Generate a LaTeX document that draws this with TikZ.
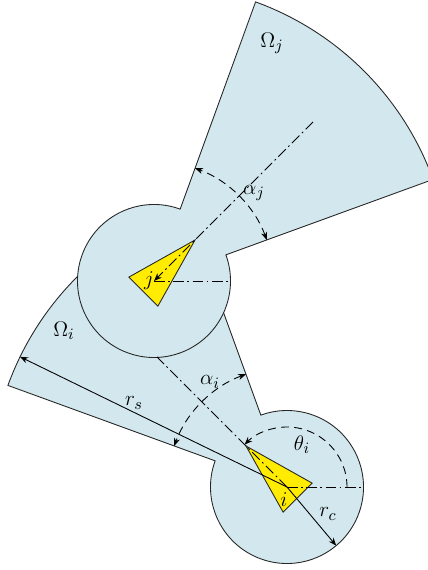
\documentclass[tikz,border=0pt]{standalone}
\usepackage{tikz}
\usetikzlibrary{arrows.meta,calc}
\definecolor{zoneblue}{RGB}{210,232,238}
\definecolor{robotyellow}{RGB}{255,236,0}
\tikzset{
  zone/.style={fill=zoneblue,draw=black!85,line width=0.5pt},
  robot/.style={fill=robotyellow,draw=black!85,line width=0.5pt},
  axisline/.style={line width=0.5pt,dash pattern=on 6pt off 2pt on 1pt off 2pt},
  anglearc/.style={line width=0.5pt,dash pattern=on 4.5pt off 3pt},
  tip/.style={-{Stealth[length=4.5pt,width=3.5pt]}},
  lbl/.style={font=\fontsize{13}{15}\selectfont,inner sep=0pt}
}

\begin{document}
\begin{tikzpicture}[x=0.02cm,y=0.02cm]
      \useasboundingbox (0,0) rectangle (428,-570);
      \clip (0,0) rectangle (428,-570);
      \coordinate (i) at (287,-487);
      \coordinate (j) at (154,-281);

      \draw[zone] ($(i)+(160:76.5)$) arc[start angle=160,end angle=470,radius=76.5]
        -- ($(i)+(110:297)$) arc[start angle=110,end angle=160,radius=297] -- cycle;
      \draw[zone] ($(j)+(70:76.5)$) arc[start angle=70,end angle=380,radius=76.5]
        -- ($(j)+(20:297)$) arc[start angle=20,end angle=70,radius=297] -- cycle;

      \begin{scope}[shift={(i)},rotate=135]
        \draw[robot] (58,0) -- (-15,20.5) -- (-15,-20.5) -- cycle;
      \end{scope}
      \begin{scope}[shift={(j)},rotate=45]
        \draw[robot] (58,0) -- (-15,20.5) -- (-15,-20.5) -- cycle;
      \end{scope}

      \draw[axisline] (i) -- ($(i)+(135:184)$);
      \draw[axisline] (i) -- ($(i)+(0:76.5)$);
      \draw[axisline,tip] ($(j)+(45:225)$) -- (j);
      \draw[axisline] (j) -- ($(j)+(0:77)$);

      \draw[anglearc,tip] ($(i)+(0:60)$) arc[start angle=0,end angle=135,radius=60];
      \draw[anglearc,{Stealth[length=4.5pt,width=3.5pt]}-{Stealth[length=4.5pt,width=3.5pt]}]
        ($(i)+(110:120)$) arc[start angle=110,end angle=160,radius=120];
      \draw[anglearc,{Stealth[length=4.5pt,width=3.5pt]}-{Stealth[length=4.5pt,width=3.5pt]}]
        ($(j)+(20:120)$) arc[start angle=20,end angle=70,radius=120];

      \draw[line width=0.5pt,tip] (i) -- ($(i)+(154:297)$);
      \draw[line width=0.5pt,tip] (i) -- ($(i)+(-50:76.5)$);

      \node[lbl] (omegaj) at (272,-43) {$\Omega_j$};
      \node[lbl] (omegai) at (64,-331) {$\Omega_i$};
      \node[lbl] (alphaj) at (254,-193) {$\alpha_j$};
      \node[lbl] (alphai) at (210,-382) {$\alpha_i$};
      \node[lbl] (thetai) at (302,-445) {$\theta_i$};
      \node[lbl] (rs) at (134,-403) {$r_s$};
      \node[lbl] (rc) at (328,-514) {$r_c$};
      \node[lbl] (labi) at (284,-500) {$i$};
      \node[lbl] (labj) at (149,-281) {$j$};
    \end{tikzpicture}
\end{document}
